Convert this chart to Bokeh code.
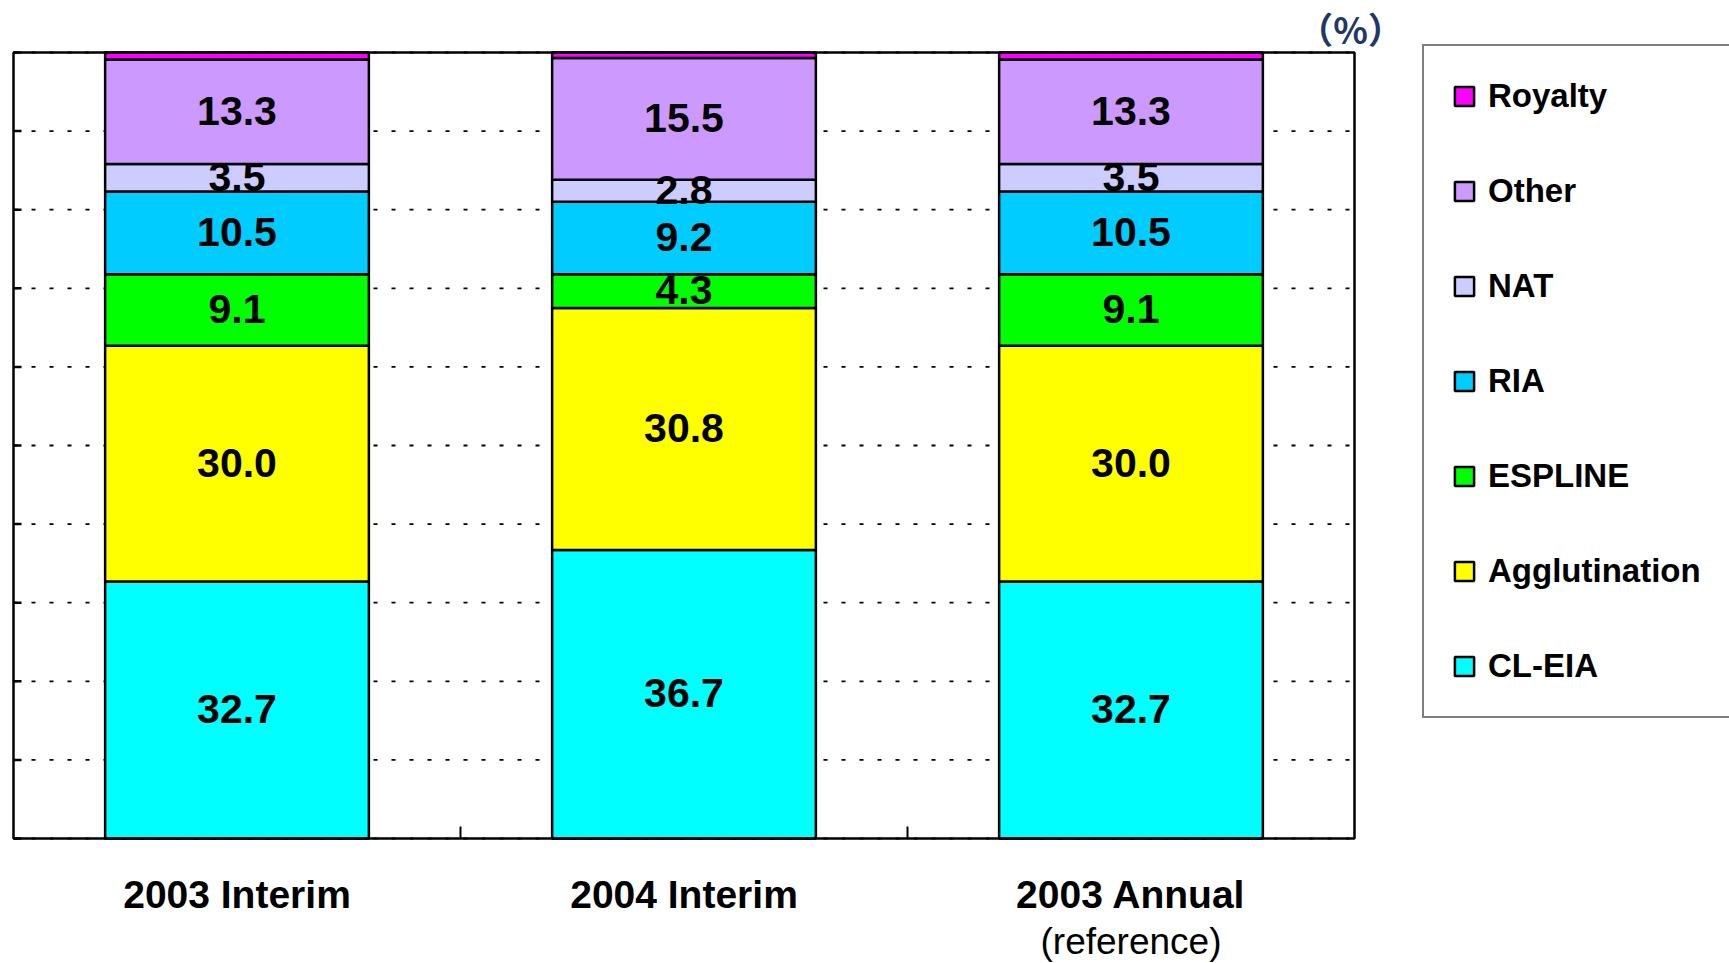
from bokeh.plotting import figure
from bokeh.models import ColumnDataSource, Range1d, Legend, LegendItem
from bokeh.core.properties import value
from bokeh.embed import file_html
from bokeh.resources import INLINE
import numpy as np

# ---------------- data ----------------
categories = ["2003 Interim", "2004 Interim", "2003 Annual"]
cl_eia = [32.7, 36.7, 32.7]
agglutination = [30.0, 30.8, 30.0]
espline = [9.1, 4.3, 9.1]
ria = [10.5, 9.2, 10.5]
nat = [3.5, 2.8, 3.5]
other = [13.3, 15.5, 13.3]
royalty = [0.9, 0.7, 0.9]
series_names = ["CL-EIA", "Agglutination", "ESPLINE", "RIA", "NAT", "Other", "Royalty"]
labelled_series = ["CL-EIA", "Agglutination", "ESPLINE", "RIA", "NAT", "Other"]
y_ticks = list(range(0, 101, 10))
unit_label = "（%）"
sub_label = "(reference)"

# ---------------- layout / style ----------------
W, H = 1729, 963
PLOT_LEFT, PLOT_RIGHT, PLOT_TOP, PLOT_BOTTOM = 13, 1354, 52, 838
colors = ["#00FFFF", "#FFFF00", "#00FF00", "#00CCFF", "#CCCCFF", "#CC99FF", "#FF00FF"]
FONT = "Liberation Sans"

n = len(categories)
y_max = y_ticks[-1]
px_x = (PLOT_RIGHT - PLOT_LEFT) / n
px_y = (PLOT_BOTTOM - PLOT_TOP) / y_max
x_range = Range1d(-PLOT_LEFT / px_x, (W - PLOT_LEFT) / px_x)
y_range = Range1d(-(H - PLOT_BOTTOM) / px_y, y_max + PLOT_TOP / px_y)

series_values = [cl_eia, agglutination, espline, ria, nat, other, royalty]
x_pos = [i + 0.5 for i in range(n)]
data = {"x": x_pos}
for name, vals in zip(series_names, series_values):
    data[name] = vals
src = ColumnDataSource(data)

p = figure(width=W, height=H, x_range=x_range, y_range=y_range,
           x_axis_location=None, y_axis_location=None,
           output_backend="svg", toolbar_location=None,
           min_border_left=0, min_border_right=0, min_border_top=0, min_border_bottom=0)
p.outline_line_color = None
p.background_fill_color = "white"
p.border_fill_color = "white"
p.grid.visible = False

# dotted horizontal grid lines inside the plot box
p.segment(x0=0, x1=n, y0=y_ticks, y1=y_ticks, line_color="black", line_width=1.8,
          line_dash="4 14")

# stacked bars
renderers = p.vbar_stack(series_names, x="x", width=0.59, source=src,
                         fill_color=colors, line_color="black", line_width=2.5)

# plot box
p.quad(left=0, right=n, bottom=0, top=y_max, fill_color=None, line_color="black",
       line_width=2.5)
# inward ticks on the left edge and category boundary ticks on the bottom edge
p.ray(x=0, y=y_ticks, length=8, length_units="screen", angle=0,
      line_color="black", line_width=2.5)
p.ray(x=list(range(1, n)), y=0, length=12, length_units="screen", angle=90,
      angle_units="deg", line_color="black", line_width=2)

# segment labels
cum = np.zeros(n)
lx, ly, lt = [], [], []
for name, vals in zip(series_names, series_values):
    vals = np.array(vals)
    if name in labelled_series:
        for i in range(n):
            lx.append(x_pos[i])
            ly.append(cum[i] + vals[i] / 2)
            lt.append(f"{vals[i]:.1f}")
    cum = cum + vals
p.text(x=lx, y=ly, text=lt, text_align="center", text_baseline="middle", y_offset=-1,
       text_font=value(FONT), text_font_style="bold", text_font_size="41px", text_color="black")

# category labels under the box
p.text(x=x_pos, y=0, text=categories, y_offset=56, text_align="center", text_baseline="middle",
       text_font=value(FONT), text_font_style="bold", text_font_size="39px", text_color="black")
p.text(x=[x_pos[-1]], y=0, text=[sub_label], y_offset=103, text_align="center",
       text_baseline="middle", text_font=value(FONT), text_font_size="37px",
       text_color="black")
# unit label
p.text(x=[n], y=y_max, text=[unit_label], x_offset=-4, y_offset=-25, text_align="center",
       text_baseline="middle", text_font=value("Noto Sans CJK JP"), text_font_style="bold",
       text_font_size="36px", text_color="#1F3864")

items = [LegendItem(label=nm, renderers=[r]) for nm, r in zip(series_names, renderers)][::-1]
legend = Legend(items=items, location=(1422, H - 718), glyph_width=24, glyph_height=24,
                label_height=44, label_width=260, label_standoff=12, spacing=51, padding=28,
                margin=0, label_text_font=FONT, label_text_font_style="bold",
                label_text_font_size="33px", label_text_color="black",
                border_line_color="black", border_line_width=2.5,
                background_fill_color="white", background_fill_alpha=1.0)
p.add_layout(legend)

open("out.html", "w").write(file_html(p, INLINE))
